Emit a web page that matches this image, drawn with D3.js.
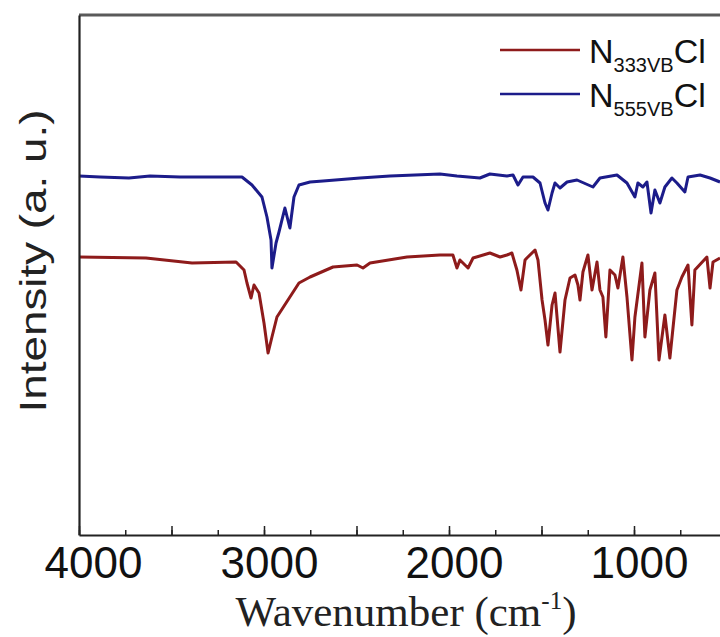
<!DOCTYPE html>
<html>
<head>
<meta charset="utf-8">
<script src="https://cdn.jsdelivr.net/npm/d3@7"></script>
<style>
  body { margin: 0; background: #fff; }
</style>
</head>
<body>
<div id="chart"></div>
<script>
// Spectrum of N555VBCl (wavenumber in cm-1, intensity in a. u.)
const blueWave = [4000, 3886, 3730, 3616, 3454, 3292, 3119, 3065, 3011, 2984, 2962, 2957, 2935, 2919, 2887,
    2860, 2838, 2811, 2751, 2681, 2481, 2319, 2049, 1957, 1833, 1779, 1687, 1654, 1627, 1600, 1546, 1508,
    1481, 1465, 1443, 1427, 1400, 1362, 1308, 1222, 1184, 1092, 1038, 995, 979, 952, 930, 908, 887, 860,
    833, 795, 768, 725, 708, 643, 589, 535];
const blueInt = [359, 358, 357, 359, 358, 358, 358, 350, 338, 318, 295, 267, 292, 303, 327,
    307, 338, 350, 353, 354, 357, 359, 361, 359, 357, 361, 359, 360, 350, 358, 358, 352,
    332, 325, 342, 352, 347, 353, 355, 348, 357, 360, 352, 338, 352, 348, 353, 322, 345, 332,
    348, 357, 352, 343, 358, 360, 357, 353];

// Spectrum of N333VBCl
const redWave = [4000, 3638, 3389, 3151, 3108, 3092, 3070, 3054, 3027, 3000, 2978, 2957, 2930, 2881, 2811,
    2751, 2627, 2497, 2465, 2427, 2227, 2049, 1979, 1957, 1941, 1897, 1870, 1779, 1724, 1687, 1660,
    1633, 1611, 1589, 1579, 1535, 1519, 1497, 1481, 1465, 1443, 1427, 1400, 1373, 1346, 1319, 1303,
    1292, 1276, 1265, 1249, 1227, 1200, 1184, 1168, 1152, 1130, 1103, 1087, 1060, 1038, 1011, 995,
    957, 941, 914, 887, 865, 833, 806, 768, 741, 708, 687, 671, 606, 589, 573, 535];
const redInt = [278, 277, 272, 273, 265, 252, 237, 250, 242, 212, 182, 198, 218, 232, 252,
    258, 268, 270, 267, 272, 278, 280, 280, 267, 275, 267, 277, 282, 278, 280, 282,
    265, 245, 275, 277, 285, 275, 235, 215, 190, 230, 242, 183, 235, 257, 260, 250,
    235, 263, 270, 280, 245, 273, 245, 238, 198, 265, 260, 247, 278, 238, 175, 218,
    272, 198, 245, 262, 175, 220, 177, 245, 258, 270, 210, 265, 278, 247, 273, 277];

const seriesNames = ["333VB", "555VB"];
const seriesColors = ["#8e1b1b", "#1c1c8a"];

const majorTicks = d3.range(4000, 399, -500);
const minorTicks = d3.range(4000, 399, -250);

const width = 720, height = 637;
const margin = {top: 15, left: 79, bottom: 102};

const svg = d3.select("#chart")
    .append("svg")
    .attr("width", width)
    .attr("height", height)
    .style("font-family", "'Liberation Sans', Arial, sans-serif");

// x axis runs 4000 -> 400, the right part falls outside the picture
const xScale = d3.scaleLinear()
    .domain([4000, 400])
    .range([margin.left, margin.left + 3600 * 0.185]);

const yScale = d3.scaleLinear()
    .domain([0, 520])
    .range([height - margin.bottom, margin.top]);

const xEnd = xScale.range()[1];

// top frame line
svg.append("line")
    .attr("x1", margin.left)
    .attr("x2", xEnd)
    .attr("y1", margin.top)
    .attr("y2", margin.top)
    .attr("stroke", "#5a5a5a")
    .attr("stroke-width", 3);

// spectra
const line = d3.line()
    .x(d => xScale(d[0]))
    .y(d => yScale(d[1]));

const redData = redWave.map((w, i) => [w, redInt[i]]);
const blueData = blueWave.map((w, i) => [w, blueInt[i]]);

svg.append("path")
    .datum(redData)
    .attr("fill", "none")
    .attr("stroke", seriesColors[0])
    .attr("stroke-width", 3)
    .attr("stroke-linejoin", "round")
    .attr("d", line);

svg.append("path")
    .datum(blueData)
    .attr("fill", "none")
    .attr("stroke", seriesColors[1])
    .attr("stroke-width", 3)
    .attr("stroke-linejoin", "round")
    .attr("d", line);

// minor ticks
svg.append("g")
    .attr("transform", `translate(0,${height - margin.bottom})`)
    .call(d3.axisBottom(xScale).tickValues(minorTicks).tickSize(-5).tickSizeOuter(0).tickFormat(""))
    .call(g => g.select(".domain").remove())
    .call(g => g.selectAll("line").attr("stroke", "#222").attr("stroke-width", 1.5));

// major ticks and labels
const xAxis = svg.append("g")
    .attr("transform", `translate(0,${height - margin.bottom})`)
    .call(d3.axisBottom(xScale)
        .tickValues(majorTicks)
        .tickSize(-9)
        .tickSizeOuter(0)
        .tickPadding(12)
        .tickFormat(d => d % 1000 === 0 ? d : ""));

xAxis.select(".domain").attr("stroke", "#222").attr("stroke-width", 2.2);
xAxis.selectAll("line").attr("stroke", "#222").attr("stroke-width", 1.5);
xAxis.selectAll("text")
    .attr("fill", "#111")
    .attr("dx", d => d === 4000 ? 14 : 5)
    .style("font-size", "44px")
    .style("font-family", "'Liberation Sans', Arial, sans-serif");

// y axis, no ticks
svg.append("g")
    .attr("transform", `translate(${margin.left},0)`)
    .call(d3.axisLeft(yScale).tickValues([]).tickSizeOuter(0))
    .call(g => g.select(".domain").attr("stroke", "#222").attr("stroke-width", 2.2));

// x axis label
const xLabel = svg.append("text")
    .attr("x", 406)
    .attr("y", 626)
    .attr("text-anchor", "middle")
    .style("font-family", "'Liberation Serif', 'Times New Roman', serif")
    .style("font-size", "43px")
    .attr("fill", "#222");
xLabel.append("tspan").text("Wavenumber (cm");
xLabel.append("tspan").attr("dy", -17).style("font-size", "25px").text("-1");
xLabel.append("tspan").attr("dy", 17).text(")");

// y axis label
svg.append("text")
    .attr("transform", "translate(46,261) rotate(-90)")
    .attr("text-anchor", "middle")
    .attr("textLength", 303)
    .attr("lengthAdjust", "spacingAndGlyphs")
    .style("font-size", "36px")
    .attr("fill", "#222")
    .text("Intensity (a. u.)");

// legend
const legend = svg.selectAll(".legend")
    .data(seriesNames)
    .enter().append("g")
    .attr("class", "legend")
    .attr("transform", (d, i) => `translate(0,${50 + i * 44})`);

legend.append("line")
    .attr("x1", 500)
    .attr("x2", 580)
    .attr("stroke", (d, i) => seriesColors[i])
    .attr("stroke-width", 2.6);

const legendText = legend.append("text")
    .attr("x", 589)
    .attr("y", 13)
    .style("font-size", "34px")
    .attr("fill", "#111");
legendText.append("tspan").text("N");
legendText.append("tspan").attr("dy", 9).style("font-size", "20px").text(d => d);
legendText.append("tspan").attr("dy", -9).text("Cl");
</script>
</body>
</html>
